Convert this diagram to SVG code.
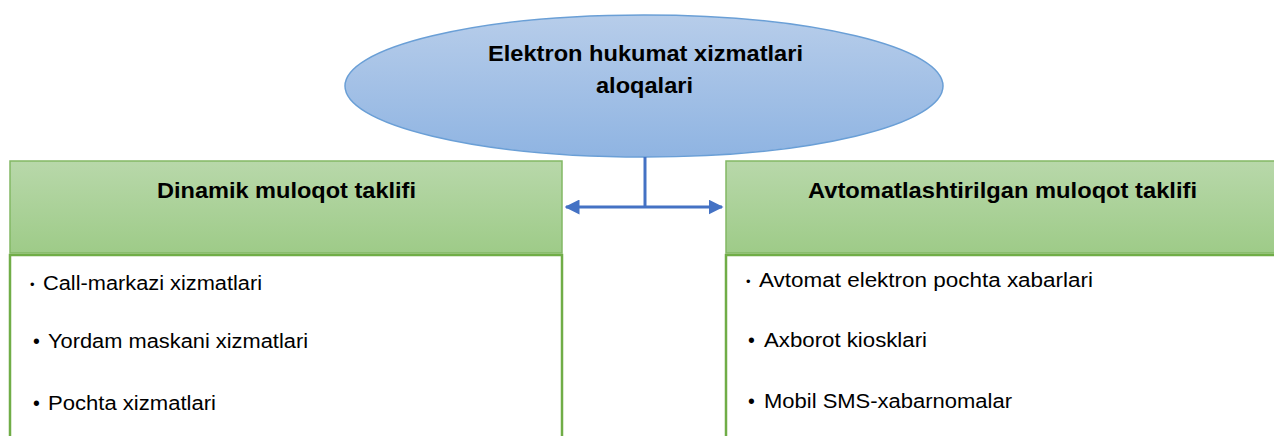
<svg xmlns="http://www.w3.org/2000/svg" width="1274" height="436" viewBox="0 0 1274 436">
<defs>
<linearGradient id="gBlue" x1="0" y1="0" x2="0" y2="1">
<stop offset="0" stop-color="#b7cdea"/>
<stop offset="1" stop-color="#8fb4e2"/>
</linearGradient>
<linearGradient id="gGreen" x1="0" y1="0" x2="0" y2="1">
<stop offset="0" stop-color="#b8d8aa"/>
<stop offset="1" stop-color="#9ecb88"/>
</linearGradient>
<marker id="ah" viewBox="0 0 10 10" refX="9" refY="5" markerWidth="5" markerHeight="5" orient="auto-start-reverse" markerUnits="strokeWidth">
<path d="M0,0 L10,5 L0,10 z" fill="#4472c4"/>
</marker>
</defs>
<style>
.t{font-family:"Liberation Sans",Arial,sans-serif;fill:#000}
.h{font-size:22px;font-weight:bold}
.b{font-size:19.5px}
.d{font-size:19.5px}
.head{fill:url(#gGreen);stroke:#82b864;stroke-width:1.5}
.body{fill:#fff;stroke:#70ad47;stroke-width:2.5}
.con{stroke:#4472c4;stroke-width:3;fill:none}
</style>
<rect width="1274" height="436" fill="#fff"/>
<g id="root">
<ellipse cx="644" cy="86" rx="299" ry="71" fill="url(#gBlue)" stroke="#6a9fd6" stroke-width="1.5"/>
<text class="t h" x="488" y="61" textLength="315" lengthAdjust="spacingAndGlyphs">Elektron hukumat xizmatlari</text>
<text class="t h" x="596" y="93" textLength="97" lengthAdjust="spacingAndGlyphs">aloqalari</text>
</g>
<g id="connectors">
<line class="con" x1="645" y1="157" x2="645" y2="207"/>
<line class="con" x1="645" y1="207" x2="566" y2="207" marker-end="url(#ah)"/>
<line class="con" x1="645" y1="207" x2="722" y2="207" marker-end="url(#ah)"/>
</g>
<g id="left">
<rect class="head" x="10" y="161" width="552" height="92"/>
<text class="t h" x="157" y="198" textLength="259" lengthAdjust="spacingAndGlyphs">Dinamik muloqot taklifi</text>
<rect class="body" x="10" y="255" width="552" height="190"/>
<text class="t" x="30" y="289" font-size="13">•</text>
<text class="t b" x="43" y="290" textLength="219" lengthAdjust="spacingAndGlyphs">Call-markazi xizmatlari</text>
<text class="t d" x="33" y="348">•</text>
<text class="t b" x="48" y="348" textLength="260" lengthAdjust="spacingAndGlyphs">Yordam maskani xizmatlari</text>
<text class="t d" x="33" y="410">•</text>
<text class="t b" x="48" y="410" textLength="168" lengthAdjust="spacingAndGlyphs">Pochta xizmatlari</text>
</g>
<g id="right">
<rect class="head" x="726" y="161" width="560" height="92"/>
<text class="t h" x="808" y="198" textLength="389" lengthAdjust="spacingAndGlyphs">Avtomatlashtirilgan muloqot taklifi</text>
<rect class="body" x="726" y="255" width="560" height="190"/>
<text class="t" x="746" y="286" font-size="13">•</text>
<text class="t b" x="759" y="287" textLength="334" lengthAdjust="spacingAndGlyphs">Avtomat elektron pochta xabarlari</text>
<text class="t d" x="748" y="347">•</text>
<text class="t b" x="764" y="347" textLength="163" lengthAdjust="spacingAndGlyphs">Axborot kiosklari</text>
<text class="t d" x="748" y="408">•</text>
<text class="t b" x="764" y="408" textLength="248" lengthAdjust="spacingAndGlyphs">Mobil SMS-xabarnomalar</text>
</g>
</svg>
